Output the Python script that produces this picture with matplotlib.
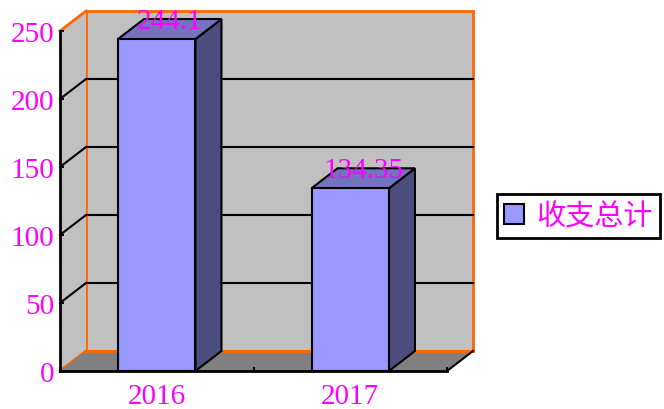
import matplotlib.pyplot as plt
from matplotlib.patches import Polygon, Patch

# Data
years = ['2016', '2017']
totals = [244.1, 134.35]
series_name = '收支总计'
y_ticks = [0, 50, 100, 150, 200, 250]

magenta = '#FF00FF'
orange = '#FF6600'
wall = '#C0C0C0'
floor = '#808080'
bar_front = '#9999FF'
bar_top = '#7373C0'
bar_side = '#4D4D80'

fig = plt.figure(figsize=(6.64, 4.10), dpi=100)
# front plane of the 3d box in pixel terms: x 60..447, y 32..372
ax = fig.add_axes([60 / 664, 38 / 410, 387 / 664, 340 / 410])
ax.set_xlim(-0.5, len(years) - 0.5)
ax.set_ylim(0, 250)
ax.patch.set_visible(False)

# depth offset of the box (26 px right, 20 px up) in data units
DX = 26 / (387 / len(years))
DY = 20 / (340 / 250)
x0, x1 = -0.5, len(years) - 0.5
ymax = y_ticks[-1]

# back wall
ax.add_patch(Polygon([(x0 + DX, DY), (x1 + DX, DY), (x1 + DX, ymax + DY), (x0 + DX, ymax + DY)],
                     closed=True, facecolor=wall, edgecolor=orange, lw=2, zorder=0.5, clip_on=False))
# left wall
ax.add_patch(Polygon([(x0, 0), (x0 + DX, DY), (x0 + DX, ymax + DY), (x0, ymax)],
                     closed=True, facecolor=wall, edgecolor='none', zorder=0.5, clip_on=False))
ax.plot([x0, x0 + DX], [ymax, ymax + DY], color=orange, lw=2, zorder=0.6, clip_on=False)
ax.plot([x0, x0 + DX], [0, DY], color=orange, lw=2, zorder=0.6, clip_on=False)
# floor
ax.add_patch(Polygon([(x0, 0), (x0 + DX, DY), (x1 + DX, DY), (x1, 0)],
                     closed=True, facecolor=floor, edgecolor='none', zorder=0.7, clip_on=False))
ax.plot([x0 + DX, x1 + DX], [DY, DY], color=orange, lw=2, zorder=0.8, clip_on=False)
ax.plot([x1, x1 + DX], [0, DY], color='black', lw=1.5, zorder=0.9, clip_on=False)

# gridlines on back and left wall
for v in y_ticks[1:-1]:
    ax.plot([x0 + DX, x1 + DX], [v + DY, v + DY], color='black', lw=1.5, zorder=1, clip_on=False)
    ax.plot([x0, x0 + DX], [v, v + DY], color='black', lw=1.5, zorder=1, clip_on=False)

# 3d bars
hw = 0.2
for i, v in enumerate(totals):
    front = [(i - hw, 0), (i + hw, 0), (i + hw, v), (i - hw, v)]
    side = [(i + hw, 0), (i + hw + DX, DY), (i + hw + DX, v + DY), (i + hw, v)]
    top = [(i - hw, v), (i + hw, v), (i + hw + DX, v + DY), (i - hw + DX, v + DY)]
    ax.add_patch(Polygon(side, closed=True, facecolor=bar_side, edgecolor='black', lw=1.5, zorder=3, clip_on=False))
    ax.add_patch(Polygon(top, closed=True, facecolor=bar_top, edgecolor='black', lw=1.5, zorder=3, clip_on=False))
    ax.add_patch(Polygon(front, closed=True, facecolor=bar_front, edgecolor='black', lw=1.5, zorder=3, clip_on=False))
    ax.text(i + DX / 2, v + DY / 2 + 6, f'{v:g}', ha='center', va='center', color=magenta,
            fontsize=21, family='Liberation Serif', zorder=5, clip_on=False)

# axes
for s in ['top', 'right']:
    ax.spines[s].set_visible(False)
ax.spines['left'].set_linewidth(2)
ax.spines['bottom'].set_linewidth(2)
ax.spines['left'].set_zorder(4)
ax.spines['bottom'].set_zorder(4)

ax.set_yticks(y_ticks)
ax.set_yticklabels([str(t) for t in y_ticks])
ax.tick_params(axis='y', direction='in', length=3, width=1.5, pad=4, labelcolor=magenta, labelsize=21)
ax.set_xticks(range(len(years)))
ax.set_xticklabels(years)
ax.set_xticks([x0 + k for k in range(len(years) + 1)], minor=True)
ax.tick_params(axis='x', which='major', length=0, pad=9, labelcolor=magenta, labelsize=21)
ax.tick_params(axis='x', which='minor', direction='in', length=3, width=1.5)
for lab in ax.get_xticklabels() + ax.get_yticklabels():
    lab.set_family('Liberation Serif')

# legend
handle = Patch(facecolor=bar_front, edgecolor='black', lw=1.5)
leg = fig.legend([handle], [series_name], loc='center left', bbox_to_anchor=(497 / 664, 193 / 410),
                 fancybox=False, edgecolor='black', framealpha=1, borderaxespad=0,
                 handlelength=0.68, handleheight=0.68, handletextpad=0.4, borderpad=0.25,
                 prop={'family': ['Noto Sans CJK SC', 'DejaVu Sans'], 'size': 21})
leg.get_frame().set_linewidth(2)
for t in leg.get_texts():
    t.set_color(magenta)

fig.savefig('out.png', dpi=100)
